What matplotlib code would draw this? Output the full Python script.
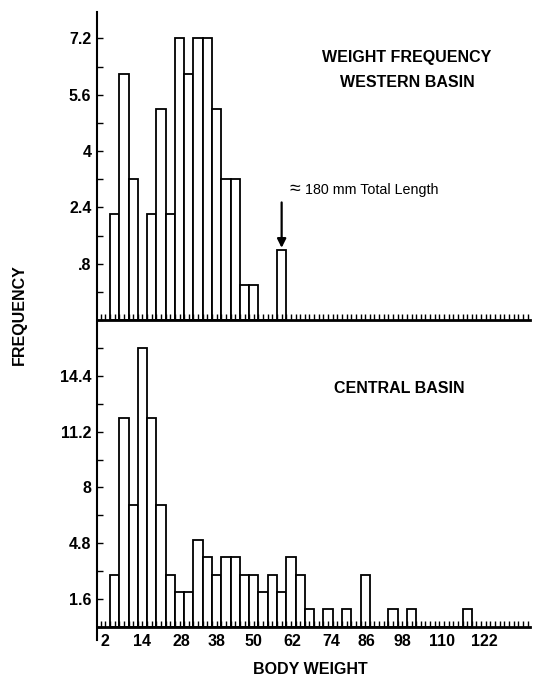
import matplotlib
matplotlib.use("Agg")
import matplotlib.pyplot as plt
from matplotlib.ticker import MultipleLocator

plt.rcParams['font.family'] = ['Liberation Sans', 'DejaVu Sans']

# bin centres (body weight, 3 g bins)
weight_bins = [5, 8, 11, 14, 17, 20, 23, 26, 29, 32, 35, 38, 41, 44, 47, 50, 53,
               56, 59, 62, 65, 68, 71, 74, 77, 80, 83, 86, 89, 92, 95, 98, 101,
               104, 107, 110, 113, 116, 119]

# frequencies
western = [3, 7, 4, 0, 3, 6, 3, 8, 7, 8, 8, 6, 4, 4, 1, 1, 0, 0, 2]
central = [3, 12, 7, 16, 12, 7, 3, 2, 2, 5, 4, 3, 4, 4, 3, 3, 2, 3, 2, 4, 3, 1,
           0, 1, 0, 1, 0, 3, 0, 0, 1, 0, 1, 0, 0, 0, 0, 0, 1]

x_labels = ['2', '14', '28', '38', '50', '62', '74', '86', '98', '110', '122']
# the printed labels are hand set and drift a little from the scale
x_label_pos = [2, 14, 26.5, 38, 50, 62.5, 75, 86.5, 98, 111, 124.5]
top_ypos = [1.6, 3.2, 4.8, 6.4, 8.0]
top_ylabels = ['.8', '2.4', '4', '5.6', '7.2']
bot_ypos = [1.6, 4.8, 8.0, 11.2, 14.4]
bot_ylabels = ['1.6', '4.8', '8', '11.2', '14.4']

fig = plt.figure(figsize=(5.34, 6.77), dpi=100)
ax1 = fig.add_axes([97/534, 1-320/677, 433/534, 308/677])
ax2 = fig.add_axes([97/534, 1-640/677, 433/534, 318/677])
ax1.patch.set_alpha(0)
ax2.patch.set_alpha(0)

ax1.bar(weight_bins[:len(western)], western, width=3, color='white',
        edgecolor='black', linewidth=1.3)
ax2.bar(weight_bins[:len(central)], central, width=3, color='white',
        edgecolor='black', linewidth=1.3)

for ax in (ax1, ax2):
    ax.set_xlim(-0.7, 139.3)
    ax.spines['top'].set_visible(False)
    ax.spines['right'].set_visible(False)
    ax.spines['bottom'].set_linewidth(2)
    ax.spines['left'].set_linewidth(1.5)
    ax.xaxis.remove_overlapping_locs = False
    ax.xaxis.set_minor_locator(MultipleLocator(1.5, offset=0.5))
    ax.tick_params(axis='x', which='major', length=0, pad=5)
    ax.tick_params(axis='x', which='minor', direction='in', length=4, width=1)
    ax.tick_params(axis='y', which='both', direction='in', length=4, width=1, pad=4)

ax1.set_ylim(0, 8.75)
ax1.set_yticks(top_ypos, top_ylabels)
ax1.yaxis.set_minor_locator(MultipleLocator(0.8))
ax1.set_xticks(x_label_pos, [])

ax2.set_ylim(-0.76, 17.5)
ax2.spines['bottom'].set_position(('data', 0))
ax2.set_yticks(bot_ypos, bot_ylabels)
ax2.yaxis.set_minor_locator(MultipleLocator(1.6))
ax2.set_xticks(x_label_pos, x_labels)

for ax in (ax1, ax2):
    for lab in ax.get_yticklabels() + ax.get_xticklabels():
        lab.set_fontsize(11.5)
        lab.set_fontweight('bold')

ax1.text(99.5, 7.46, 'WEIGHT FREQUENCY', ha='center', va='center',
         fontsize=11.5, fontweight='bold')
ax1.text(99.5, 6.75, 'WESTERN BASIN', ha='center', va='center',
         fontsize=11.5, fontweight='bold')
ax1.annotate('', xy=(59, 2.05), xytext=(59, 3.34),
             arrowprops=dict(arrowstyle='-|>', color='black', lw=1.6,
                             mutation_scale=13, shrinkA=0, shrinkB=0))
ax1.text(61.5, 3.70, '\u2248', ha='left', va='center', fontsize=14)
ax1.text(66.5, 3.70, '180 mm Total Length', ha='left', va='center',
         fontsize=10.3)
ax2.text(97, 13.66, 'CENTRAL BASIN', ha='center', va='center',
         fontsize=11.5, fontweight='bold')

fig.text(19/534, 1-315/677, 'FREQUENCY', rotation=90, ha='center',
         va='center', fontsize=11.5, fontweight='bold')
fig.text(310/534, 1-669/677, 'BODY WEIGHT', ha='center', va='center',
         fontsize=11.5, fontweight='bold')

fig.savefig('out.png', dpi=100)
